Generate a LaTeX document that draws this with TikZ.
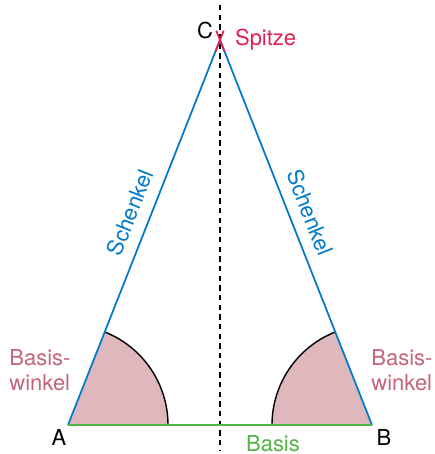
\documentclass[tikz,border=0pt]{standalone}
\usepackage{fontspec}
\setmainfont{TeX Gyre Heros}
\usetikzlibrary{calc}
\definecolor{sideblue}{RGB}{0,122,201}
\definecolor{tipred}{RGB}{226,30,80}
\definecolor{basegreen}{RGB}{80,180,70}
\definecolor{angletext}{RGB}{196,100,122}
\definecolor{anglefill}{RGB}{222,184,189}
\tikzset{
  sideline/.style={sideblue, line width=1pt},
  baseline/.style={basegreen, line width=1pt},
  txt/.style={font=\fontsize{12.5}{14.5}\selectfont, inner sep=1pt},
}
\begin{document}
\begin{tikzpicture}
\useasboundingbox (0,0) rectangle (8.7,-9.08);
\coordinate (A) at (1.36,-8.5);
\coordinate (B) at (7.44,-8.5);
\coordinate (C) at (4.4,-0.8);
% base angles
\fill[anglefill] (A) -- ++(0:2) arc (0:68.46:2) -- cycle;
\fill[anglefill] (B) -- ++(180:2) arc (180:111.54:2) -- cycle;
\draw[line width=0.8pt] ($(A)+(0:2)$) arc (0:68.46:2);
\draw[line width=0.8pt] ($(B)+(180:2)$) arc (180:111.54:2);
% symmetry axis
\draw[dash pattern=on 3pt off 2.5pt, line width=0.7pt] (4.4,-0.1) coordinate (top) -- (4.4,-9.0) coordinate (bot);
% triangle
\draw[sideline] (A) -- (C) -- (B);
\draw[baseline] (A) -- (B);
\draw[tipred, line width=1pt] ($(C)!-0.2cm!(A)$) -- ($(C)!0.25cm!(A)$);
\draw[tipred, line width=1pt] ($(C)!-0.2cm!(B)$) -- ($(C)!0.25cm!(B)$);
% labels
\node[txt] (a) at (1.18,-8.75) {A};
\node[txt] (b) at (7.68,-8.75) {B};
\node[txt] (c) at (4.1,-0.6) {C};
\node[txt, tipred, anchor=west] (tip) at (4.66,-0.8) {Spitze};
\node[txt, sideblue, rotate=68.46] (sl) at (2.6,-4.25) {Schenkel};
\node[txt, sideblue, rotate=-68.46] (sr) at (6.2,-4.25) {Schenkel};
\node[txt, basegreen] (base) at (5.46,-8.87) {Basis};
\node[txt, angletext, align=left] (wl) at (0.8,-7.4) {Basis-\\winkel};
\node[txt, angletext, align=left] (wr) at (8.04,-7.4) {Basis-\\winkel};
\end{tikzpicture}
\end{document}
